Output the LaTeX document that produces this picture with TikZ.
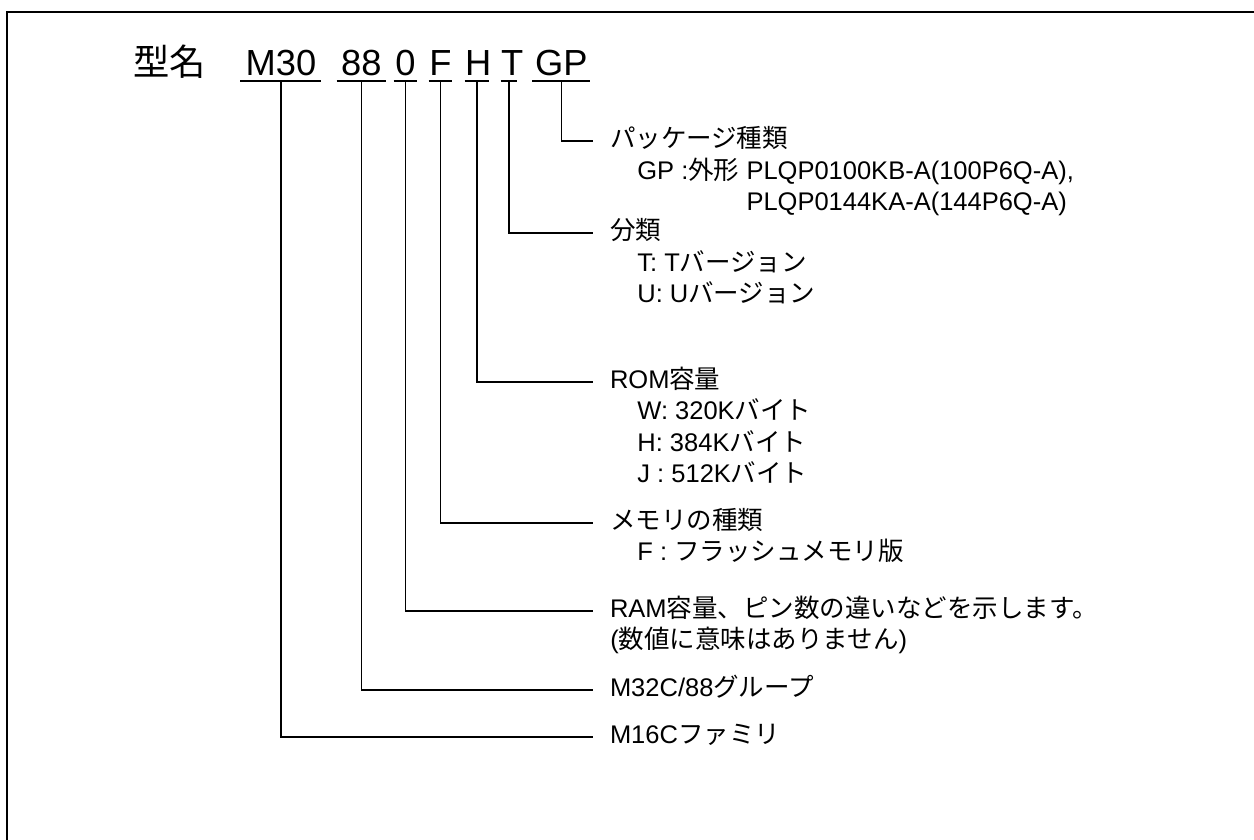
\documentclass[tikz,border=0pt]{standalone}
\usepackage{fontspec}
\setmainfont{Liberation Sans}
\newfontfamily\jp{Noto Sans CJK JP}
\newcommand{\ja}[1]{{\jp #1}}
\tikzset{
  seg/.style={anchor=south, inner sep=0pt, text depth=2.5pt, align=center, font=\fontsize{18.15}{20}\selectfont},
  head/.style={anchor=west, inner sep=0pt, outer xsep=8.5pt, text height=9.2pt, text depth=2.55pt},
  item/.style={anchor=base west, inner sep=0pt},
  lead/.style={line width=0.8pt},
  uline/.style={line width=1pt},
}

\begin{document}
\begin{tikzpicture}[x=0.5pt, y=-0.5pt, every node/.style={font=\fontsize{12.75}{15}\selectfont}]
    \useasboundingbox (0,0) rectangle (1254,840);
    % frame
    \draw[line width=1pt] (6.7,840) -- (6.7,11.7) -- (1254,11.7);

    % model number
    \node[anchor=base west, inner sep=0pt, font=\jp\fontsize{18.15}{20}\selectfont] (model) at (133,76) {型名};
    \node[seg, text width=40.15pt] (m30) at (280.9,81) {M30};
    \node[seg, text width=24.35pt] (n88) at (361.4,81) {88};
    \node[seg, text width=11.35pt] (n0) at (405.4,81) {0};
    \node[seg, text width=11.35pt] (nf) at (440.4,81) {F};
    \node[seg, text width=12pt] (nh) at (477,81) {H};
    \node[seg, text width=8pt] (nt) at (509,81) {T};
    \node[seg, text width=28.65pt] (gp) at (561.4,81) {GP};
    \foreach \s in {m30,n88,n0,nf,nh,nt,gp}
        \draw[uline] (\s.south west) -- (\s.south east);

    % descriptions
    \node[head] (pkg) at (593,141) {\ja{パッケージ種類}};
    \node[item] (pkg1) at (637,179) {GP :\ja{外形} PLQP0100KB-A(100P6Q-A),};
    \node[item] (pkg2) at (637,210.6) {\phantom{GP :\ja{外形} }PLQP0144KA-A(144P6Q-A)};
    \node[head] (cls) at (593,233) {\ja{分類}};
    \node[item] (cls1) at (637,271) {T: T\ja{バージョン}};
    \node[item] (cls2) at (637,302.6) {U: U\ja{バージョン}};
    \node[head] (rom) at (593,381.7) {ROM\ja{容量}};
    \node[item] (rom1) at (637,419.8) {W: 320K\ja{バイト}};
    \node[item] (rom2) at (637,451.3) {H: 384K\ja{バイト}};
    \node[item] (rom3) at (637,482.8) {J : 512K\ja{バイト}};
    \node[head] (mem) at (593,522.7) {\ja{メモリの種類}};
    \node[item] (mem1) at (637,560.8) {F : \ja{フラッシュメモリ版}};
    \node[head] (ram) at (593,610.7) {RAM\ja{容量、ピン数の違いなどを示します。}};
    \node[item] (ram1) at (610,648.8) {(\ja{数値に意味はありません})};
    \node[head] (grp) at (593,690) {M32C/88\ja{グループ}};
    \node[head] (fam) at (593,736.7) {M16C\ja{ファミリ}};

    % leaders
    \draw[lead] (gp.south) |- (pkg.west);
    \draw[lead] (nt.south) |- (cls.west);
    \draw[lead] (nh.south) |- (rom.west);
    \draw[lead] (nf.south) |- (mem.west);
    \draw[lead] (n0.south) |- (ram.west);
    \draw[lead] (n88.south) |- (grp.west);
    \draw[lead] (m30.south) |- (fam.west);
\end{tikzpicture}
\end{document}
